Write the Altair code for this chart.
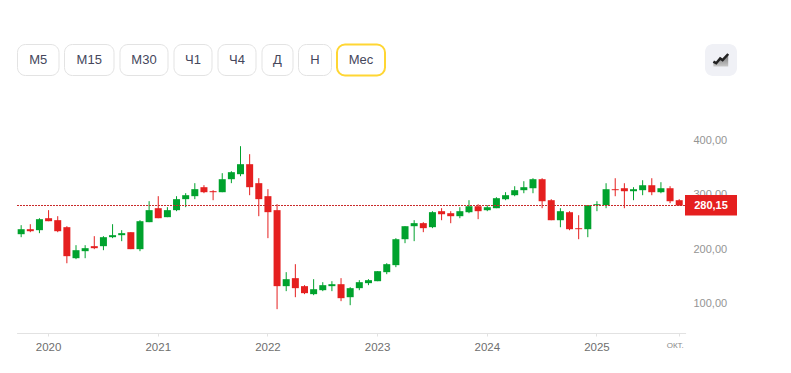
import altair as alt
import pandas as pd

months = [f"{y}-{m:02d}" for y in range(2019, 2026) for m in range(1, 13)]
months = months[months.index("2019-10"):months.index("2025-10") + 1]

opens = [227.4, 236.6, 234.8, 256.8, 253.2, 240.3, 183.3, 196.2, 205.4, 205.4, 221.9, 225.6, 231.1, 199.9, 249.5,
         275.2, 258.7, 271.6, 291.8, 297.3, 313.8, 306.5, 304.6, 328.5, 337.7, 356.1, 321.2, 297.3, 271.6, 131.9,
         146.6, 131.9, 117.2, 124.5, 131.9, 135.5, 111.6, 128.2, 137.4, 141.0, 157.6, 170.5, 218.2, 242.1, 247.7,
         240.3, 269.7, 266.0, 260.5, 267.8, 278.8, 271.5, 275.2, 291.7, 299.1, 308.3, 311.9, 328.5, 289.9, 253.1,
         267.8, 238.4, 236.6, 280.7, 280.7, 310.1, 311.9, 306.4, 308.3, 317.4, 304.6, 311.9, 289.9]
closes = [236.6, 232.9, 255.0, 251.3, 232.9, 187.0, 198.0, 201.7, 201.7, 221.9, 225.6, 229.3, 199.9, 251.3, 271.6,
          256.8, 271.6, 291.8, 299.1, 310.2, 304.6, 304.6, 328.5, 341.4, 356.1, 313.8, 291.8, 267.9, 131.9, 144.7,
          128.2, 119.0, 126.3, 133.7, 135.5, 109.8, 128.2, 139.2, 142.9, 159.4, 172.3, 218.2, 242.1, 247.7, 238.5,
          267.9, 264.1, 260.5, 269.7, 278.8, 269.7, 277.0, 293.6, 299.1, 308.3, 313.8, 328.5, 288.0, 253.1, 269.7,
          236.6, 236.6, 280.7, 282.5, 310.1, 308.3, 306.4, 310.1, 317.4, 304.6, 311.9, 288.0, 280.15]
highs = [244.0, 245.8, 256.8, 271.6, 260.5, 242.1, 207.2, 207.2, 223.8, 223.8, 245.8, 234.8, 231.1, 253.2, 288.1,
         297.3, 277.1, 297.3, 302.8, 321.2, 317.5, 308.3, 339.6, 343.2, 389.2, 374.5, 330.4, 310.2, 282.6, 157.6,
         172.3, 133.7, 144.7, 139.2, 141.0, 146.6, 130.0, 142.9, 144.7, 159.4, 174.1, 220.1, 242.1, 253.2, 249.5,
         269.7, 275.2, 269.7, 277.0, 289.9, 282.5, 280.7, 295.4, 304.6, 315.6, 324.8, 330.3, 330.3, 291.7, 275.2,
         269.7, 262.3, 280.7, 288.0, 321.1, 330.3, 321.1, 313.8, 326.6, 330.3, 323.0, 315.6, 291.7]
lows = [221.9, 231.1, 229.3, 251.3, 231.1, 174.0, 181.5, 183.3, 199.9, 198.0, 220.1, 214.6, 199.9, 196.2, 249.5,
        256.8, 258.7, 269.7, 277.1, 291.8, 302.8, 289.9, 304.6, 321.2, 334.0, 299.1, 260.5, 220.1, 89.6, 122.7,
        111.6, 117.2, 115.3, 122.7, 122.7, 104.3, 96.9, 124.5, 133.7, 141.0, 153.9, 166.8, 210.9, 214.6, 231.1,
        238.5, 253.1, 247.6, 256.8, 266.0, 255.0, 269.7, 275.2, 289.9, 297.2, 302.7, 302.7, 275.2, 253.1, 240.2,
        234.7, 218.2, 221.9, 269.7, 275.2, 297.2, 275.2, 289.9, 299.1, 299.1, 302.7, 284.4, 280.15]

last_price = 280.15
last_label = "280,15"
y_ticks = [100, 200, 300, 400]
x_ticks = ["2020-01", "2021-01", "2022-01", "2023-01", "2024-01", "2025-01", "2025-10"]
button_labels = ["М5", "М15", "М30", "Ч1", "Ч4", "Д", "Н", "Мес"]

FONT = "Liberation Sans"
RED, GREEN = "#e51f1f", "#00a22d"
BLANK = alt.Data(values=[{}])

df = pd.DataFrame({"month": months, "open": opens, "high": highs, "low": lows, "close": closes})

x = alt.X("month:N", sort=months, title=None, scale=alt.Scale(domain=months, range=[8.6, 677.6], paddingInner=0,
          paddingOuter=0.1, align=0),
          axis=alt.Axis(values=x_ticks, grid=False, labelAngle=0, domainColor="#e2e2e2", tickColor="#e2e2e2",
                        tickSize=3, labelPadding=5, labelFont=FONT,
                        labelColor={"expr": "datum.value == '2025-10' ? '#8a8a8a' : '#6e6e6e'"},
                        labelFontSize={"expr": "datum.value == '2025-10' ? 8 : 11.5"},
                        labelOffset={"expr": "datum.value == '2025-10' ? -4 : 0"},
                        labelExpr="datum.value == '2025-10' ? 'ОКТ.' : slice(datum.value, 0, 4)"))
y = alt.Y("low:Q", title=None, scale=alt.Scale(domain=[46.7, 643.2], range=[324.5, 0], nice=False, zero=False),
          axis=alt.Axis(orient="right", values=y_ticks, grid=False, domain=False, ticks=False, labelPadding=5,
                        labelColor="#949494", labelFont=FONT, labelFontSize=11,
                        labelExpr="replace(format(datum.value, '.2f'), '.', ',')"))
color = alt.condition("datum.close >= datum.open", alt.value(GREEN), alt.value(RED))

wicks = alt.Chart(df).mark_rule(strokeWidth=1).encode(x=x, y=y, y2="high:Q", color=color)
bodies = alt.Chart(df).mark_bar(size=7).encode(x=x, y=alt.Y("open:Q", title=None), y2="close:Q", color=color)
price_line = alt.Chart(BLANK).mark_rule(color="#c92a2a", strokeWidth=1, strokeDash=[2, 1]).encode(
    x=alt.value(9), x2=alt.value(677), y=alt.datum(last_price, type="quantitative"))

price_box = alt.Chart(BLANK).mark_rect(color=RED).encode(
    x=alt.value(677), x2=alt.value(729), y=alt.value(187), y2=alt.value(207.5))
price_text = alt.Chart(BLANK).mark_text(font=FONT, fontSize=11, fontWeight="bold", color="white").encode(
    x=alt.value(703), y=alt.value(197.5), text=alt.value(last_label))


def button(label, x0, x1):
    active = label == "Мес"
    rect = alt.Chart(BLANK).mark_rect(
        fill="white", stroke="#ffd633" if active else "#e3e3e3", strokeWidth=2 if active else 1, cornerRadius=8
    ).encode(x=alt.value(x0), x2=alt.value(x1), y=alt.value(36.5), y2=alt.value(67.5))
    text = alt.Chart(BLANK).mark_text(font=FONT, fontSize=13, color="#45475c").encode(
        x=alt.value((x0 + x1) / 2), y=alt.value(52), text=alt.value(label))
    return rect + text


edges = [(9.5, 51), (56.5, 106), (112, 160), (166, 204), (210, 248), (254, 285), (290.5, 323.5), (329, 377)]
buttons = [button(lab, a, b) for lab, (a, b) in zip(button_labels, edges)]

icon_box = alt.Chart(BLANK).mark_rect(fill="#f0f1f6", cornerRadius=8).encode(
    x=alt.value(697), x2=alt.value(729), y=alt.value(36), y2=alt.value(68))
icon_area = alt.Chart(BLANK).mark_point(
    shape="M-0.95 0.2L-0.6 0.4L-0.1 -0.2L0.2 0L0.9 -0.75L0.9 0.8L-0.95 0.8Z", size=256, filled=True, opacity=1,
    fill=alt.Gradient(gradient="linear", x1=0, y1=0, x2=0, y2=1,
                      stops=[alt.GradientStop(color="#6f6f6f", offset=0), alt.GradientStop(color="#c8c8c8", offset=1)]),
    strokeWidth=0).encode(x=alt.value(713), y=alt.value(52))
icon_line = alt.Chart(BLANK).mark_point(
    shape="M-0.95 0.2L-0.6 0.4L-0.1 -0.2L0.2 0L0.9 -0.75", size=256, filled=False, opacity=1,
    stroke="#222222", strokeWidth=2.5).encode(x=alt.value(713), y=alt.value(52))

chart = alt.layer(wicks, bodies, price_line, price_box, price_text, *buttons, icon_box, icon_area, icon_line).properties(
    width=680, height=325, padding=0, autosize=alt.AutoSizeParams(type="pad"), background="white"
).configure_view(stroke=None)

chart.save("out.html", embed_options={"renderer": "svg", "actions": False})
